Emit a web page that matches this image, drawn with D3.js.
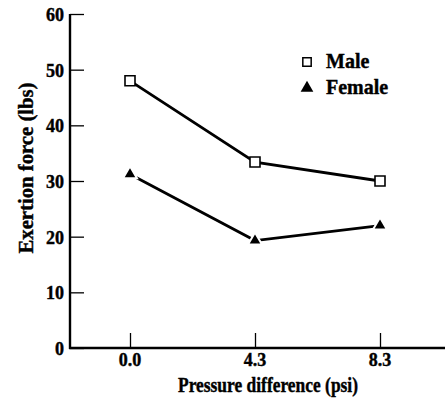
<!DOCTYPE html>
<html>
<head>
<meta charset="utf-8">
<script src="https://cdn.jsdelivr.net/npm/d3@7"></script>
<style>
body { margin: 0; background: #fff; }
text { font-family: "Liberation Serif", "DejaVu Serif", serif; font-weight: bold; fill: #000; stroke: #000; stroke-width: 0.4px; }
</style>
</head>
<body>
<svg width="445" height="407"></svg>
<script>
const svg = d3.select("svg")

// data
const pressures = ["0.0", "4.3", "8.3"]
const male = [48, 33.4, 30]
const female = [31.2, 19.3, 22]
const yTicks = [0, 10, 20, 30, 40, 50, 60]

const x = d3.scalePoint()
	.domain(pressures)
	.range([130, 380])

const y = d3.scaleLinear()
	.domain([0, 60])
	.range([348, 14])

// y axis
const yAxis = svg.append("g")
	.attr("transform", "translate(70,0)")
	.call(d3.axisRight(y).tickValues(yTicks).tickSize(14).tickFormat(""))
yAxis.select(".domain").remove()
yAxis.selectAll(".tick line").attr("stroke", "#000").attr("stroke-width", 1.3)

svg.append("line")
	.attr("x1", 70).attr("x2", 70)
	.attr("y1", y(60)).attr("y2", y(0) + 1)
	.attr("stroke", "#000").attr("stroke-width", 2.4)

svg.selectAll(".ylab")
	.data(yTicks)
	.join("text")
	.attr("class", "ylab")
	.attr("x", 64)
	.attr("y", d => y(d) + 7)
	.attr("text-anchor", "end")
	.attr("font-size", 18)
	.text(d => d)

// x axis
const xAxis = svg.append("g")
	.attr("transform", "translate(0,348)")
	.call(d3.axisTop(x).tickSize(15).tickFormat(""))
xAxis.select(".domain").remove()
xAxis.selectAll(".tick line").attr("stroke", "#000").attr("stroke-width", 1.3)

svg.append("line")
	.attr("x1", 69).attr("x2", 445)
	.attr("y1", 348).attr("y2", 348)
	.attr("stroke", "#000").attr("stroke-width", 2.4)

svg.selectAll(".xlab")
	.data(pressures)
	.join("text")
	.attr("class", "xlab")
	.attr("x", d => x(d))
	.attr("y", 366)
	.attr("text-anchor", "middle")
	.attr("font-size", 18)
	.text(d => d)

// axis titles
svg.append("text")
	.attr("x", 268)
	.attr("y", 392)
	.attr("text-anchor", "middle")
	.attr("font-size", 20)
	.attr("textLength", 180)
	.attr("lengthAdjust", "spacingAndGlyphs")
	.text("Pressure difference (psi)")

svg.append("text")
	.attr("transform", "translate(33,168) rotate(-90)")
	.attr("text-anchor", "middle")
	.attr("font-size", 20)
	.attr("textLength", 171)
	.attr("lengthAdjust", "spacingAndGlyphs")
	.text("Exertion force (lbs)")

// lines
const line = d3.line()
	.x((d, i) => x(pressures[i]))
	.y(d => y(d))

svg.append("path")
	.attr("d", line(male))
	.attr("fill", "none")
	.attr("stroke", "#000")
	.attr("stroke-width", 2.8)

svg.append("path")
	.attr("d", line(female))
	.attr("fill", "none")
	.attr("stroke", "#000")
	.attr("stroke-width", 2.8)

// markers
const square = d3.symbol().type(d3.symbolSquare).size(100)
const triangle = d3.symbol().type(d3.symbolTriangle).size(85)

svg.selectAll(".male")
	.data(male)
	.join("path")
	.attr("class", "male")
	.attr("d", square)
	.attr("transform", (d, i) => `translate(${x(pressures[i])},${y(d)})`)
	.attr("fill", "#fff")
	.attr("stroke", "#000")
	.attr("stroke-width", 1.6)

svg.selectAll(".female")
	.data(female)
	.join("path")
	.attr("class", "female")
	.attr("d", triangle)
	.attr("transform", (d, i) => `translate(${x(pressures[i])},${y(d)})`)
	.attr("fill", "#000")
	.attr("stroke", "#fff")
	.attr("stroke-width", 2)

// legend
const legend = svg.append("g")
legend.append("path")
	.attr("d", d3.symbol().type(d3.symbolSquare).size(70))
	.attr("transform", "translate(307,62)")
	.attr("fill", "#fff")
	.attr("stroke", "#000")
	.attr("stroke-width", 1.5)
legend.append("path")
	.attr("d", d3.symbol().type(d3.symbolTriangle).size(70))
	.attr("transform", "translate(307,88)")
	.attr("fill", "#000")
legend.append("text")
	.attr("x", 326).attr("y", 68)
	.attr("font-size", 20)
	.text("Male")
legend.append("text")
	.attr("x", 326).attr("y", 94)
	.attr("font-size", 20)
	.text("Female")
</script>
</body>
</html>
